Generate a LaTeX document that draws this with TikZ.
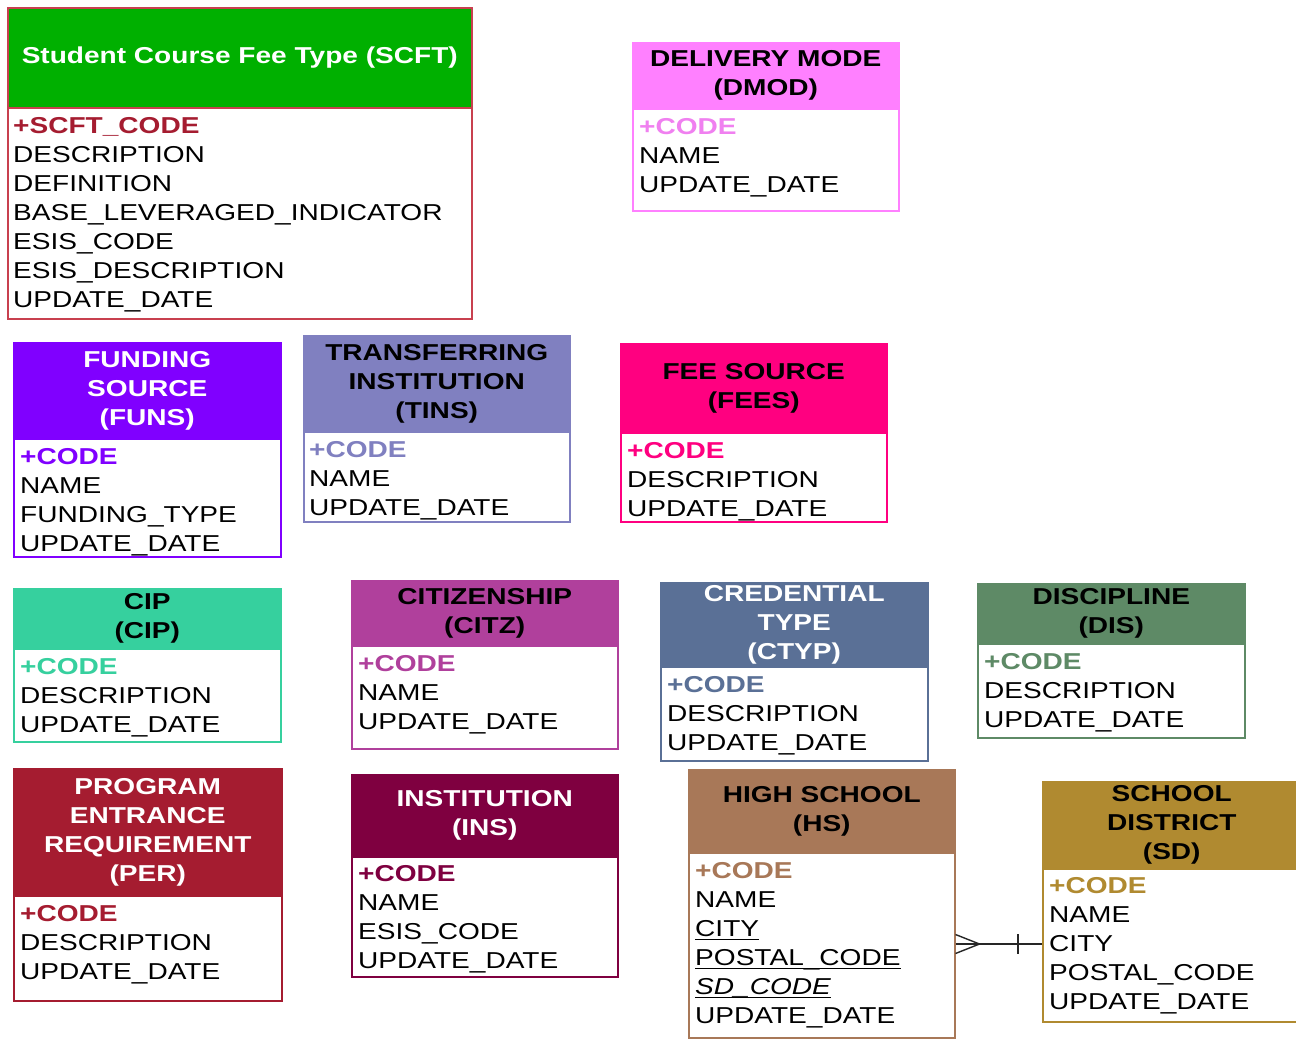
\documentclass[tikz,border=0pt]{standalone}
\usepackage{fontspec}
\setmainfont{Liberation Sans}[FakeStretch=1.22]
\definecolor{cSCFTb}{HTML}{C8404F}
\definecolor{cSCFT}{HTML}{00B000}
\definecolor{cSCFTk}{HTML}{A51C30}
\definecolor{cDMOD}{HTML}{FF80FF}
\definecolor{cDMODk}{HTML}{F080F0}
\definecolor{cFUNS}{HTML}{8000FF}
\definecolor{cTINS}{HTML}{8080C0}
\definecolor{cFEES}{HTML}{FF0080}
\definecolor{cCIP}{HTML}{36D09E}
\definecolor{cCITZ}{HTML}{B0409C}
\definecolor{cCTYP}{HTML}{5A7096}
\definecolor{cDIS}{HTML}{5E8A66}
\definecolor{cPER}{HTML}{A51C30}
\definecolor{cINS}{HTML}{7F0040}
\definecolor{cHS}{HTML}{A87858}
\definecolor{cSD}{HTML}{B08A30}
\newcommand\uln[1]{\setbox0=\hbox{#1}\rlap{\rule[-4pt]{\wd0}{1.3pt}}\box0}
\tikzset{
  ebox/.style={rectangle, anchor=north west, inner sep=0pt, line width=1.5pt},
  htxt/.style={inner sep=0pt, align=center, font=\bfseries\fontsize{23}{29}\selectfont},
  atxt/.style={inner sep=0pt, anchor=base west, font=\fontsize{23}{29}\selectfont},
  conn/.style={line width=1.4pt, draw=black!85},
}
% #1 name, #2 x1, #3 y1, #4 x2, #5 header bottom, #6 y2, #7 border, #8 fill
\newcommand\entity[8]{%
  \node[ebox, draw=#7, minimum width={(#4)-(#2)}, minimum height={(#6)-(#3)}] (#1) at (#2,#3) {};
  \node[ebox, draw=#7, fill=#8, minimum width={(#4)-(#2)}, minimum height={(#5)-(#3)}] (#1-h) at (#2,#3) {};
}
% #1 name, #2 header text colour, #3 header text
\newcommand\etitle[3]{\node[htxt, text=#2] (#1-t) at (#1-h.center) {#3};}
% #1 name, #2 x, #3 first baseline, #4 key colour, #5 key, #6 other attributes
\newcommand\attrs[6]{%
  \node[atxt, text=#4, font=\bfseries\fontsize{23}{29}\selectfont] (#1-k) at (#2,#3) {#5};
  \foreach \t [count=\i] in {#6} {\node[atxt] (#1-a\i) at (#2,{#3+29*\i}) {\t};}
}
\begin{document}
\begin{tikzpicture}[x=1pt,y=-1pt]
\useasboundingbox[fill=white] (0,0) rectangle (1296,1039);
% SCFT
\entity{scft}{7}{7}{471}{107}{318}{cSCFTb}{cSCFT}
\etitle{scft}{white}{Student Course Fee Type (SCFT)}
\attrs{scft}{13}{133}{cSCFTk}{+SCFT\_CODE}{DESCRIPTION,DEFINITION,BASE\_LEVERAGED\_INDICATOR,ESIS\_CODE,ESIS\_DESCRIPTION,UPDATE\_DATE}
% DMOD
\entity{dmod}{632}{42}{898}{108}{210}{cDMOD}{cDMOD}
\etitle{dmod}{black}{DELIVERY MODE\\(DMOD)}
\attrs{dmod}{639}{134}{cDMODk}{+CODE}{NAME,UPDATE\_DATE}
% FUNS
\entity{funs}{13}{342}{280}{438}{556}{cFUNS}{cFUNS}
\etitle{funs}{white}{FUNDING\\SOURCE\\(FUNS)}
\attrs{funs}{20}{464}{cFUNS}{+CODE}{NAME,FUNDING\_TYPE,UPDATE\_DATE}
% TINS
\entity{tins}{303}{335}{569}{431}{521}{cTINS}{cTINS}
\etitle{tins}{black}{TRANSFERRING\\INSTITUTION\\(TINS)}
\attrs{tins}{309}{457}{cTINS}{+CODE}{NAME,UPDATE\_DATE}
% FEES
\entity{fees}{620}{343}{886}{432}{521}{cFEES}{cFEES}
\etitle{fees}{black}{FEE SOURCE\\(FEES)}
\attrs{fees}{627}{458}{cFEES}{+CODE}{DESCRIPTION,UPDATE\_DATE}
% CIP
\entity{cip}{13}{588}{280}{648}{741}{cCIP}{cCIP}
\etitle{cip}{black}{CIP\\(CIP)}
\attrs{cip}{20}{674}{cCIP}{+CODE}{DESCRIPTION,UPDATE\_DATE}
% CITZ
\entity{citz}{351}{580}{617}{645}{748}{cCITZ}{cCITZ}
\etitle{citz}{black}{CITIZENSHIP\\(CITZ)}
\attrs{citz}{358}{671}{cCITZ}{+CODE}{NAME,UPDATE\_DATE}
% CTYP
\entity{ctyp}{660}{582}{927}{666}{760}{cCTYP}{cCTYP}
\etitle{ctyp}{white}{CREDENTIAL\\TYPE\\(CTYP)}
\attrs{ctyp}{667}{692}{cCTYP}{+CODE}{DESCRIPTION,UPDATE\_DATE}
% DIS
\entity{dis}{977}{583}{1244}{643}{737}{cDIS}{cDIS}
\etitle{dis}{black}{DISCIPLINE\\(DIS)}
\attrs{dis}{984}{669}{cDIS}{+CODE}{DESCRIPTION,UPDATE\_DATE}
% PER
\entity{per}{13}{768}{281}{895}{1000}{cPER}{cPER}
\etitle{per}{white}{PROGRAM\\ENTRANCE\\REQUIREMENT\\(PER)}
\attrs{per}{20}{921}{cPER}{+CODE}{DESCRIPTION,UPDATE\_DATE}
% INS
\entity{ins}{351}{774}{617}{856}{976}{cINS}{cINS}
\etitle{ins}{white}{INSTITUTION\\(INS)}
\attrs{ins}{358}{881}{cINS}{+CODE}{NAME,ESIS\_CODE,UPDATE\_DATE}
% HS
\entity{hs}{688}{769}{954}{852}{1037}{cHS}{cHS}
\etitle{hs}{black}{HIGH SCHOOL\\(HS)}
\attrs{hs}{695}{878}{cHS}{+CODE}{NAME,\uln{CITY},\uln{POSTAL\_CODE},{\itshape\uln{SD\_CODE}},UPDATE\_DATE}
% SD
\entity{sd}{1042}{781}{1300}{868}{1021}{cSD}{cSD}
\etitle{sd}{black}{SCHOOL\\DISTRICT\\(SD)}
\attrs{sd}{1049}{893}{cSD}{+CODE}{NAME,CITY,POSTAL\_CODE,UPDATE\_DATE}
% relationship HS >--|- SD
\coordinate (hsc) at (hs.east |- 0,944);
\coordinate (sdc) at (sd.west |- 0,944);
\draw[conn] (hsc) -- (sdc);
\draw[conn] ([yshift=9.5pt]hsc) -- ([xshift=24pt]hsc) -- ([yshift=-9.5pt]hsc);
\draw[conn] ([xshift=-24pt,yshift=10pt]sdc) -- ([xshift=-24pt,yshift=-10pt]sdc);
\end{tikzpicture}
\end{document}
